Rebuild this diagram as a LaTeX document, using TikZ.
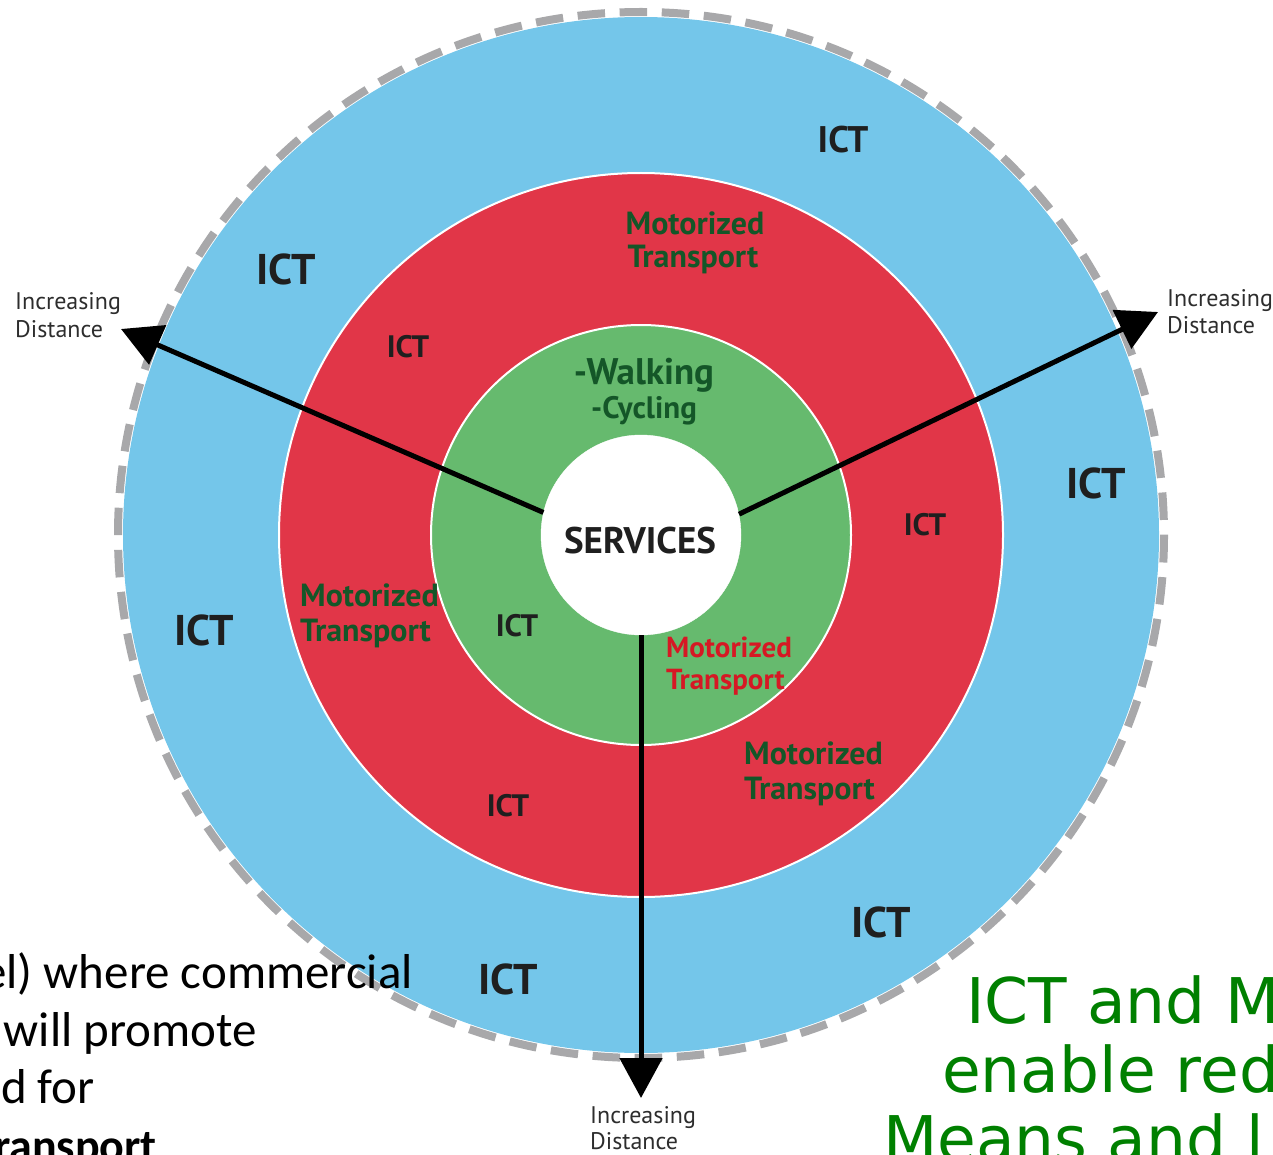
\documentclass[tikz,border=0pt]{standalone}
\usepackage{fontspec}
\usetikzlibrary{arrows.meta}
\newfontfamily\diagfont{PT Sans}
\newfontfamily\slidefont{Carlito}
\newfontfamily\notefont{DejaVu Sans}
\newcommand\fsz[1]{\fontsize{#1}{#1}\selectfont}
\definecolor{ringblue}{RGB}{116,198,234}
\definecolor{ringred}{RGB}{225,54,72}
\definecolor{ringgreen}{RGB}{102,186,110}
\definecolor{darkgreen}{RGB}{20,86,40}
\definecolor{labelred}{RGB}{214,24,36}
\definecolor{dashgray}{RGB}{168,168,170}
\definecolor{notegreen}{RGB}{0,128,0}
\definecolor{labelgray}{RGB}{45,45,45}
\begin{document}
\begin{tikzpicture}[x=1pt,y=-1pt,
  lbl/.style={inner sep=0pt, anchor=base},
  ictbig/.style={lbl, font=\diagfont\bfseries\fsz{43}, text=black!88},
  ictsmall/.style={lbl, font=\diagfont\bfseries\fsz{31}, text=black!88},
  motor/.style={lbl, font=\diagfont\bfseries\fsz{32}, text=darkgreen},
  dist/.style={inner sep=0pt, anchor=base west, font=\diagfont\fsz{24}, text=labelgray},
  ray/.style={line width=5pt, -{Triangle[length=40pt,width=42pt]}},
  slide/.style={inner sep=0pt, anchor=base east, font=\slidefont\fsz{49}, text=black},
  note/.style={inner sep=0pt, anchor=base west, font=\notefont\fsz{63}, text=notegreen},
]
\useasboundingbox (0,0) rectangle (1273,1155);
\clip (0,0) rectangle (1273,1155);

\coordinate (c) at (641,535);

% concentric rings
\fill[ringblue] (c) circle (518);
\draw[dashgray, line width=8pt, dash pattern=on 27.5pt off 14.63pt] (c) circle (523);
\draw[white, line width=2pt, fill=ringred] (c) circle (362);
\draw[white, line width=2pt, fill=ringgreen] (c) circle (210);
\node[circle, fill=white, draw=white, minimum size=200pt, inner sep=0pt] (services) at (c) {};
\node[lbl, font=\diagfont\bfseries\fsz{37}, text=black!88] (servtext) at (640,553) {SERVICES};

% rays of increasing distance
\coordinate (tipL) at (121,329);
\coordinate (tipR) at (1158,312);
\coordinate (tipB) at (641,1098);
\draw[ray] (services.167.6) -- (tipL);
\draw[ray] (services.12.7) -- (tipR);
\draw[ray] (services.south) -- (tipB);

\node[dist] (dl1) at (15,309) {Increasing};
\node[dist] (dl2) at (15,337) {Distance};
\node[dist] (dr1) at (1167,306) {Increasing};
\node[dist] (dr2) at (1167,334) {Distance};
\node[dist] (db1) at (590,1123) {Increasing};
\node[dist] (db2) at (590,1149) {Distance};

% inner ring labels
\node[lbl, font=\diagfont\bfseries\fsz{37}, text=darkgreen] (walk) at (644,384) {-Walking};
\node[lbl, font=\diagfont\bfseries\fsz{31}, text=darkgreen] (cyc) at (644,418) {-Cycling};
\node[ictsmall] (i5) at (517,636) {ICT};
\node[lbl, anchor=base west, font=\diagfont\bfseries\fsz{29}, text=labelred] (mr1) at (666,657) {Motorized};
\node[lbl, anchor=base west, font=\diagfont\bfseries\fsz{29}, text=labelred] (mr2) at (666,689) {Transport};

% middle ring labels
\node[motor] (mt1) at (695,235) {Motorized};
\node[motor] (mt2) at (693,268) {Transport};
\node[ictsmall] (i2) at (408,357) {ICT};
\node[ictsmall] (i4) at (925,535) {ICT};
\node[motor, anchor=base west] (ml1) at (300,606) {Motorized};
\node[motor, anchor=base west] (ml2) at (300,641) {Transport};
\node[motor, anchor=base west] (mb1) at (744,764) {Motorized};
\node[motor, anchor=base west] (mb2) at (744,799) {Transport};
\node[ictsmall] (i6) at (508,816) {ICT};

% outer ring labels
\node[ictbig, font=\diagfont\bfseries\fsz{37}] (o1) at (843,153) {ICT};
\node[ictbig] (o2) at (286,285) {ICT};
\node[ictbig] (o3) at (1096,498) {ICT};
\node[ictbig] (o4) at (204,645) {ICT};
\node[ictbig] (o5) at (881,937) {ICT};
\node[ictbig] (o6) at (508,994) {ICT};

% slide text around the figure
\node[slide] (s1) at (413,988) {el) where commercial};
\node[slide] (s2) at (257,1046) {will promote};
\node[slide] (s3) at (95,1103) {nd for};
\node[slide, font=\slidefont\bfseries\fsz{46}] (s4) at (157,1161) {transport};

\node[note] (n1) at (966,1023) {ICT and M};
\node[note] (n2) at (942,1092) {enable red};
\node[note] (n3) at (883,1161) {Means and l};
\end{tikzpicture}
\end{document}
